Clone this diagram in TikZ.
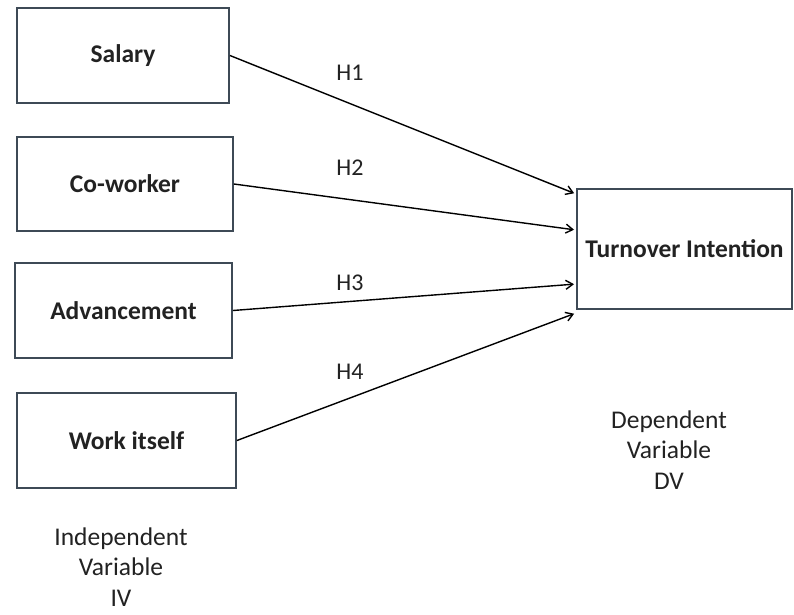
\documentclass[tikz,border=0pt]{standalone}
\usepackage{fontspec}
\setmainfont{Carlito}
\usetikzlibrary{arrows.meta}
\definecolor{boxline}{HTML}{3E4A56}
\definecolor{txt}{HTML}{222222}
\begin{document}
\begin{tikzpicture}[x=1pt,y=-1pt,
  var/.style={draw=boxline,line width=1.8pt,fill=white,text=txt,font=\bfseries\fontsize{25.5}{30}\selectfont,inner sep=0pt},
  hyp/.style={text=txt,font=\fontsize{24}{28}\selectfont},
  note/.style={text=txt,font=\fontsize{25.5}{30.5}\selectfont,align=center,inner sep=0pt},
  link/.style={line width=1.4pt,-{Straight Barb[length=7pt,width=9pt,line width=1.4pt]},shorten >=2pt}]
\useasboundingbox[fill=white] (0,0) rectangle (794,614);
\node[var,minimum width=212pt,minimum height=95pt] (sal) at (123,55.5) {Salary};
\node[var,minimum width=216pt,minimum height=94pt] (cow) at (125,184) {Co-worker};
\node[var,minimum width=217pt,minimum height=95pt] (adv) at (123.5,310.5) {Advancement};
\node[var,minimum width=219pt,minimum height=95pt] (wrk) at (126.5,440.5) {Work itself};
\node[var,minimum width=215pt,minimum height=120pt] (ti) at (684.5,249) {Turnover Intention};
\coordinate (t1) at (576,194);
\coordinate (t2) at (576,230);
\coordinate (t3) at (576,284);
\coordinate (t4) at (576,313);
\draw[link] (sal.east) -- (t1);
\draw[link] (cow.east) -- (t2);
\draw[link] (adv.east) -- (t3);
\draw[link] (wrk.east) -- (t4);
\node[hyp] (h1) at (350,73) {H1};
\node[hyp] (h2) at (350,168) {H2};
\node[hyp] (h3) at (350,283) {H3};
\node[hyp] (h4) at (350,372) {H4};
\node[note] (dv) at (669,450) {Dependent\\Variable\\DV};
\node[note] (iv) at (121,567) {Independent\\Variable\\IV};
\end{tikzpicture}
\end{document}
